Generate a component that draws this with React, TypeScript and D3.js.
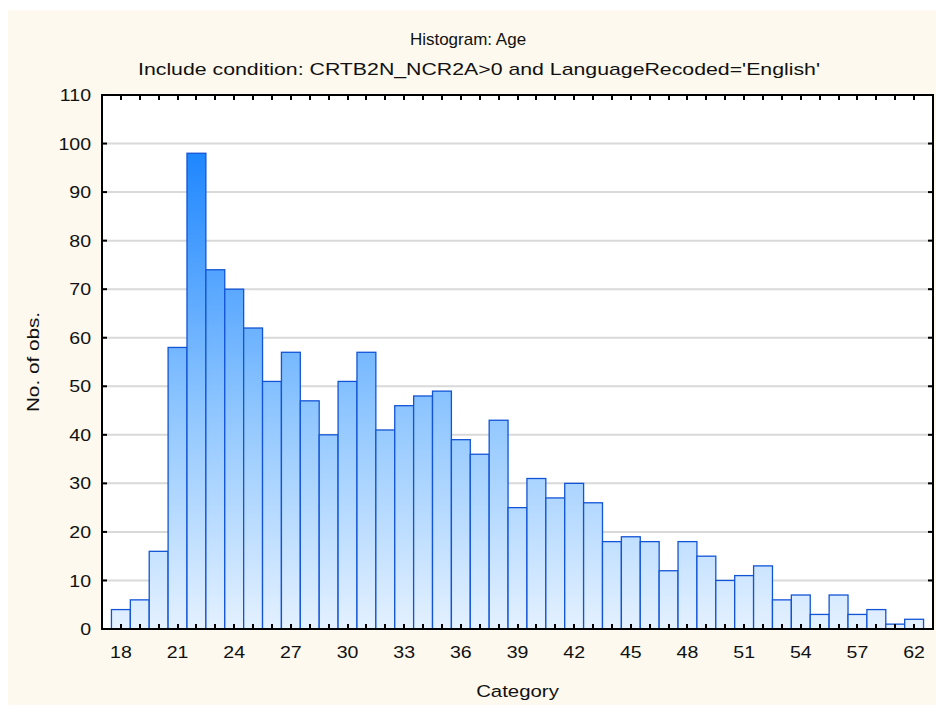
import React, { useEffect, useRef } from "react";
import * as d3 from "d3";

// distinct ages (categories) and their counts
const categories = [
  "18", "19", "20", "21", "22", "23", "24", "25", "26", "27", "28", "29", "30",
  "31", "32", "33", "34", "35", "36", "37", "38", "39", "40", "41", "42", "43",
  "44", "45", "46", "47", "48", "49", "50", "51", "52", "53", "54", "55", "56",
  "57", "58", "60", "62",
];
const counts = [
  4, 6, 16, 58, 98, 74, 70, 62, 51, 57, 47, 40, 51, 57, 41, 46, 48, 49, 39, 36,
  43, 25, 31, 27, 30, 26, 18, 19, 18, 12, 18, 15, 10, 11, 13, 6, 7, 3, 7, 3, 4,
  1, 2,
];
const yTicks = [0, 10, 20, 30, 40, 50, 60, 70, 80, 90, 100, 110];

const title = "Histogram: Age";
const subtitle = "Include condition: CRTB2N_NCR2A>0 and LanguageRecoded='English'";
const xTitle = "Category";
const yTitle = "No. of obs.";

const App = () => {
  const ref = useRef<SVGSVGElement>(null);

  useEffect(() => {
    const svg = d3.select(ref.current);
    svg.selectAll("*").remove();

    const width = 936;
    const height = 706;
    const plot = { left: 102, top: 95, right: 933, bottom: 629 };
    const font = "'Liberation Sans', Arial, sans-serif";

    svg.attr("width", width).attr("height", height);

    // cream panel
    svg.append("rect")
      .attr("x", 8).attr("y", 10)
      .attr("width", width - 8).attr("height", 695)
      .attr("fill", "#fdf9ee");

    svg.append("rect")
      .attr("x", plot.left).attr("y", plot.top)
      .attr("width", plot.right - plot.left).attr("height", plot.bottom - plot.top)
      .attr("fill", "#ffffff");

    const x = d3.scaleBand<string>()
      .domain(categories)
      .range([plot.left, plot.right])
      .paddingInner(0)
      .paddingOuter(0.5);

    const y = d3.scaleLinear().domain([0, 110]).range([plot.bottom, plot.top]);

    const defs = svg.append("defs");
    const grad = defs.append("linearGradient")
      .attr("id", "barGrad")
      .attr("gradientUnits", "userSpaceOnUse")
      .attr("x1", 0).attr("x2", 0)
      .attr("y1", y(0)).attr("y2", y(100));
    grad.append("stop").attr("offset", "0").attr("stop-color", "#e4f1ff");
    grad.append("stop").attr("offset", "0.45").attr("stop-color", "#8fc6ff");
    grad.append("stop").attr("offset", "1").attr("stop-color", "#1a84ff");

    // gridlines
    svg.append("g")
      .selectAll("line")
      .data(yTicks.filter((d) => d > 0 && d < 110))
      .enter()
      .append("line")
      .attr("x1", plot.left).attr("x2", plot.right)
      .attr("y1", (d) => y(d)).attr("y2", (d) => y(d))
      .attr("stroke", "#d9d9d9")
      .attr("stroke-width", 2);

    // bars
    svg.append("g")
      .selectAll("rect")
      .data(counts)
      .enter()
      .append("rect")
      .attr("x", (d, i) => x(categories[i])!)
      .attr("y", (d) => y(d))
      .attr("width", x.bandwidth())
      .attr("height", (d) => y(0) - y(d))
      .attr("fill", "url(#barGrad)")
      .attr("stroke", "#1254d6")
      .attr("stroke-width", 1.3);

    // ticks
    const tk = svg.append("g").attr("stroke", "#000").attr("stroke-width", 2);
    categories.forEach((c) => {
      const cx = Math.round(x(c)! + x.bandwidth() / 2);
      tk.append("line").attr("x1", cx).attr("x2", cx).attr("y1", plot.bottom).attr("y2", plot.bottom - 5);
      tk.append("line").attr("x1", cx).attr("x2", cx).attr("y1", plot.top).attr("y2", plot.top + 5);
    });
    yTicks.forEach((t) => {
      const ty = y(t);
      tk.append("line").attr("x1", plot.left).attr("x2", plot.left + 5).attr("y1", ty).attr("y2", ty);
      tk.append("line").attr("x1", plot.right).attr("x2", plot.right - 5).attr("y1", ty).attr("y2", ty);
    });

    // frame
    svg.append("rect")
      .attr("x", plot.left).attr("y", plot.top)
      .attr("width", plot.right - plot.left).attr("height", plot.bottom - plot.top)
      .attr("fill", "none")
      .attr("stroke", "#000")
      .attr("stroke-width", 2);

    const label = svg.append("g")
      .attr("font-family", font)
      .attr("font-size", 17)
      .attr("fill", "#111");

    // tick labels are a bit wider than plain Arial in the original
    label.selectAll(".ylab")
      .data(yTicks)
      .enter()
      .append("text")
      .attr("transform", (d) => `translate(${plot.left - 11},${y(d)}) scale(1.15,1)`)
      .attr("dy", "0.36em")
      .attr("text-anchor", "end")
      .text((d) => d);

    label.selectAll(".xlab")
      .data(categories.filter((d, i) => i % 3 === 0))
      .enter()
      .append("text")
      .attr("transform", (d) => `translate(${x(d)! + x.bandwidth() / 2},${plot.bottom + 29}) scale(1.15,1)`)
      .attr("text-anchor", "middle")
      .text((d) => d);

    label.append("text")
      .attr("x", 468).attr("y", 45)
      .attr("text-anchor", "middle")
      .text(title);
    label.append("text")
      .attr("x", 138).attr("y", 75)
      .attr("textLength", 682)
      .attr("lengthAdjust", "spacingAndGlyphs")
      .text(subtitle);
    label.append("text")
      .attr("transform", `translate(${(plot.left + plot.right) / 2},697) scale(1.2,1)`)
      .attr("text-anchor", "middle")
      .text(xTitle);
    label.append("text")
      .attr("transform", `translate(39,${(plot.top + plot.bottom) / 2}) rotate(-90) scale(1.22,1)`)
      .attr("text-anchor", "middle")
      .text(yTitle);
  }, []);

  return (
    <svg
      ref={ref}
      style={{ position: "absolute", left: 0, top: 0, display: "block" }}
    ></svg>
  );
};

export default App;
